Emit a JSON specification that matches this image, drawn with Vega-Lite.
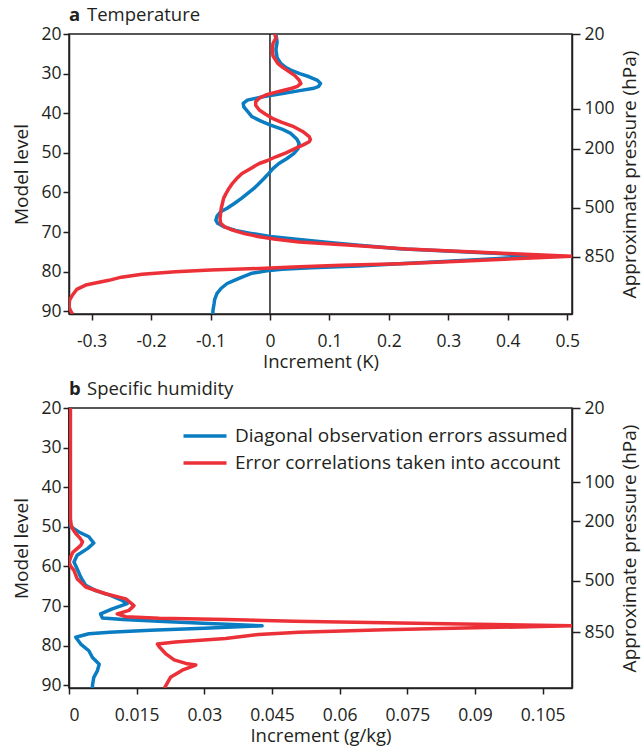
{
  "$schema": "https://vega.github.io/schema/vega-lite/v6.json",
  "background": "white",
  "padding": {"left": 12, "top": 5, "right": 1, "bottom": 2},
  "bounds": "flush",
  "spacing": 94,
  "resolve": {"legend": {"color": "independent"}},
  "config": {
    "font": "Open Sans",
    "view": {"stroke": "#231f20", "strokeWidth": 1.5},
    "axis": {"grid": false, "labelFont": "Open Sans", "titleFont": "Open Sans", "labelFontSize": 17.5, "titleFontSize": 19, "titleFontWeight": "normal", "labelColor": "#231f20", "titleColor": "#231f20", "domainColor": "#231f20", "tickColor": "#231f20", "domainWidth": 1.5, "tickWidth": 1.5, "tickSize": 6, "labelPadding": 2},
    "axisX": {"labelPadding": 12.5, "titlePadding": 2.5, "titleFontSize": 18.5},
    "title": {"anchor": "start", "frame": "group", "font": "Open Sans", "fontSize": 18.5, "color": "#231f20", "subtitleFont": "Open Sans", "subtitleFontSize": 18.5, "subtitleColor": "#231f20", "subtitlePadding": -18.5, "offset": 0.01},
    "style": {"group-subtitle": {"dx": 18}},
    "legend": {"labelFont": "Open Sans", "labelFontSize": 19, "labelColor": "#231f20", "labelLimit": 0}
  },
  "datasets": {
    "temp": [
      {"s": "Diagonal observation errors assumed", "level": 20, "inc": 0.010},
      {"s": "Diagonal observation errors assumed", "level": 22, "inc": 0.012},
      {"s": "Diagonal observation errors assumed", "level": 24, "inc": 0.010},
      {"s": "Diagonal observation errors assumed", "level": 26, "inc": 0.012},
      {"s": "Diagonal observation errors assumed", "level": 27.4, "inc": 0.018},
      {"s": "Diagonal observation errors assumed", "level": 28.5, "inc": 0.027},
      {"s": "Diagonal observation errors assumed", "level": 29.1, "inc": 0.035},
      {"s": "Diagonal observation errors assumed", "level": 30, "inc": 0.050},
      {"s": "Diagonal observation errors assumed", "level": 30.8, "inc": 0.066},
      {"s": "Diagonal observation errors assumed", "level": 31.7, "inc": 0.080},
      {"s": "Diagonal observation errors assumed", "level": 32.5, "inc": 0.085},
      {"s": "Diagonal observation errors assumed", "level": 33.2, "inc": 0.082},
      {"s": "Diagonal observation errors assumed", "level": 33.7, "inc": 0.074},
      {"s": "Diagonal observation errors assumed", "level": 34.3, "inc": 0.050},
      {"s": "Diagonal observation errors assumed", "level": 35, "inc": 0.021},
      {"s": "Diagonal observation errors assumed", "level": 35.8, "inc": -0.010},
      {"s": "Diagonal observation errors assumed", "level": 36.7, "inc": -0.038},
      {"s": "Diagonal observation errors assumed", "level": 37.5, "inc": -0.045},
      {"s": "Diagonal observation errors assumed", "level": 38.4, "inc": -0.044},
      {"s": "Diagonal observation errors assumed", "level": 39.5, "inc": -0.038},
      {"s": "Diagonal observation errors assumed", "level": 40.9, "inc": -0.030},
      {"s": "Diagonal observation errors assumed", "level": 42, "inc": -0.015},
      {"s": "Diagonal observation errors assumed", "level": 43, "inc": 0.001},
      {"s": "Diagonal observation errors assumed", "level": 44, "inc": 0.020},
      {"s": "Diagonal observation errors assumed", "level": 45.1, "inc": 0.035},
      {"s": "Diagonal observation errors assumed", "level": 46.5, "inc": 0.045},
      {"s": "Diagonal observation errors assumed", "level": 47.6, "inc": 0.049},
      {"s": "Diagonal observation errors assumed", "level": 49, "inc": 0.047},
      {"s": "Diagonal observation errors assumed", "level": 50.2, "inc": 0.040},
      {"s": "Diagonal observation errors assumed", "level": 51.5, "inc": 0.028},
      {"s": "Diagonal observation errors assumed", "level": 52.7, "inc": 0.015},
      {"s": "Diagonal observation errors assumed", "level": 54, "inc": 0.005},
      {"s": "Diagonal observation errors assumed", "level": 55.2, "inc": -0.002},
      {"s": "Diagonal observation errors assumed", "level": 56.5, "inc": -0.010},
      {"s": "Diagonal observation errors assumed", "level": 57.7, "inc": -0.018},
      {"s": "Diagonal observation errors assumed", "level": 59, "inc": -0.027},
      {"s": "Diagonal observation errors assumed", "level": 60.3, "inc": -0.038},
      {"s": "Diagonal observation errors assumed", "level": 61.5, "inc": -0.048},
      {"s": "Diagonal observation errors assumed", "level": 62.8, "inc": -0.060},
      {"s": "Diagonal observation errors assumed", "level": 64, "inc": -0.072},
      {"s": "Diagonal observation errors assumed", "level": 64.9, "inc": -0.083},
      {"s": "Diagonal observation errors assumed", "level": 66, "inc": -0.089},
      {"s": "Diagonal observation errors assumed", "level": 67, "inc": -0.091},
      {"s": "Diagonal observation errors assumed", "level": 67.8, "inc": -0.088},
      {"s": "Diagonal observation errors assumed", "level": 68.7, "inc": -0.077},
      {"s": "Diagonal observation errors assumed", "level": 69.6, "inc": -0.058},
      {"s": "Diagonal observation errors assumed", "level": 70.4, "inc": -0.030},
      {"s": "Diagonal observation errors assumed", "level": 71.1, "inc": 0.000},
      {"s": "Diagonal observation errors assumed", "level": 71.9, "inc": 0.049},
      {"s": "Diagonal observation errors assumed", "level": 72.6, "inc": 0.095},
      {"s": "Diagonal observation errors assumed", "level": 73.3, "inc": 0.145},
      {"s": "Diagonal observation errors assumed", "level": 74.2, "inc": 0.217},
      {"s": "Diagonal observation errors assumed", "level": 75.4, "inc": 0.385},
      {"s": "Diagonal observation errors assumed", "level": 76.1, "inc": 0.440},
      {"s": "Diagonal observation errors assumed", "level": 76.7, "inc": 0.385},
      {"s": "Diagonal observation errors assumed", "level": 77.4, "inc": 0.300},
      {"s": "Diagonal observation errors assumed", "level": 78, "inc": 0.217},
      {"s": "Diagonal observation errors assumed", "level": 78.6, "inc": 0.150},
      {"s": "Diagonal observation errors assumed", "level": 79.0, "inc": 0.070},
      {"s": "Diagonal observation errors assumed", "level": 79.4, "inc": 0.020},
      {"s": "Diagonal observation errors assumed", "level": 79.8, "inc": -0.005},
      {"s": "Diagonal observation errors assumed", "level": 80.4, "inc": -0.030},
      {"s": "Diagonal observation errors assumed", "level": 81.3, "inc": -0.046},
      {"s": "Diagonal observation errors assumed", "level": 82.2, "inc": -0.060},
      {"s": "Diagonal observation errors assumed", "level": 83, "inc": -0.072},
      {"s": "Diagonal observation errors assumed", "level": 84.2, "inc": -0.082},
      {"s": "Diagonal observation errors assumed", "level": 85.5, "inc": -0.089},
      {"s": "Diagonal observation errors assumed", "level": 87, "inc": -0.093},
      {"s": "Diagonal observation errors assumed", "level": 88.1, "inc": -0.094},
      {"s": "Diagonal observation errors assumed", "level": 89, "inc": -0.095},
      {"s": "Diagonal observation errors assumed", "level": 90, "inc": -0.096},
      {"s": "Diagonal observation errors assumed", "level": 90.7, "inc": -0.096},
      {"s": "Error correlations taken into account", "level": 20, "inc": 0.008},
      {"s": "Error correlations taken into account", "level": 21, "inc": 0.010},
      {"s": "Error correlations taken into account", "level": 22.4, "inc": 0.005},
      {"s": "Error correlations taken into account", "level": 24, "inc": 0.004},
      {"s": "Error correlations taken into account", "level": 25.5, "inc": 0.005},
      {"s": "Error correlations taken into account", "level": 27.4, "inc": 0.013},
      {"s": "Error correlations taken into account", "level": 28.5, "inc": 0.022},
      {"s": "Error correlations taken into account", "level": 29.5, "inc": 0.032},
      {"s": "Error correlations taken into account", "level": 30.5, "inc": 0.042},
      {"s": "Error correlations taken into account", "level": 31.6, "inc": 0.049},
      {"s": "Error correlations taken into account", "level": 32.5, "inc": 0.052},
      {"s": "Error correlations taken into account", "level": 33.2, "inc": 0.046},
      {"s": "Error correlations taken into account", "level": 33.7, "inc": 0.037},
      {"s": "Error correlations taken into account", "level": 34.5, "inc": 0.015},
      {"s": "Error correlations taken into account", "level": 35.4, "inc": -0.007},
      {"s": "Error correlations taken into account", "level": 36.2, "inc": -0.018},
      {"s": "Error correlations taken into account", "level": 37.1, "inc": -0.024},
      {"s": "Error correlations taken into account", "level": 38, "inc": -0.024},
      {"s": "Error correlations taken into account", "level": 39.2, "inc": -0.018},
      {"s": "Error correlations taken into account", "level": 40.2, "inc": -0.008},
      {"s": "Error correlations taken into account", "level": 41.3, "inc": 0.004},
      {"s": "Error correlations taken into account", "level": 42.3, "inc": 0.020},
      {"s": "Error correlations taken into account", "level": 43.4, "inc": 0.040},
      {"s": "Error correlations taken into account", "level": 44.6, "inc": 0.055},
      {"s": "Error correlations taken into account", "level": 45.9, "inc": 0.066},
      {"s": "Error correlations taken into account", "level": 46.6, "inc": 0.068},
      {"s": "Error correlations taken into account", "level": 47.2, "inc": 0.066},
      {"s": "Error correlations taken into account", "level": 48, "inc": 0.056},
      {"s": "Error correlations taken into account", "level": 48.9, "inc": 0.043},
      {"s": "Error correlations taken into account", "level": 50, "inc": 0.027},
      {"s": "Error correlations taken into account", "level": 51, "inc": 0.010},
      {"s": "Error correlations taken into account", "level": 52, "inc": -0.005},
      {"s": "Error correlations taken into account", "level": 52.7, "inc": -0.018},
      {"s": "Error correlations taken into account", "level": 54, "inc": -0.033},
      {"s": "Error correlations taken into account", "level": 55.2, "inc": -0.047},
      {"s": "Error correlations taken into account", "level": 56.5, "inc": -0.056},
      {"s": "Error correlations taken into account", "level": 57.7, "inc": -0.063},
      {"s": "Error correlations taken into account", "level": 59, "inc": -0.069},
      {"s": "Error correlations taken into account", "level": 60.3, "inc": -0.074},
      {"s": "Error correlations taken into account", "level": 61.5, "inc": -0.078},
      {"s": "Error correlations taken into account", "level": 62.8, "inc": -0.080},
      {"s": "Error correlations taken into account", "level": 64, "inc": -0.082},
      {"s": "Error correlations taken into account", "level": 65.3, "inc": -0.083},
      {"s": "Error correlations taken into account", "level": 66.5, "inc": -0.084},
      {"s": "Error correlations taken into account", "level": 67.8, "inc": -0.083},
      {"s": "Error correlations taken into account", "level": 68.7, "inc": -0.076},
      {"s": "Error correlations taken into account", "level": 69.5, "inc": -0.063},
      {"s": "Error correlations taken into account", "level": 70.4, "inc": -0.043},
      {"s": "Error correlations taken into account", "level": 71.2, "inc": -0.018},
      {"s": "Error correlations taken into account", "level": 71.8, "inc": 0.010},
      {"s": "Error correlations taken into account", "level": 72.5, "inc": 0.049},
      {"s": "Error correlations taken into account", "level": 73.3, "inc": 0.130},
      {"s": "Error correlations taken into account", "level": 74.3, "inc": 0.230},
      {"s": "Error correlations taken into account", "level": 75.4, "inc": 0.400},
      {"s": "Error correlations taken into account", "level": 76.1, "inc": 0.508},
      {"s": "Error correlations taken into account", "level": 76.7, "inc": 0.420},
      {"s": "Error correlations taken into account", "level": 77.4, "inc": 0.320},
      {"s": "Error correlations taken into account", "level": 78, "inc": 0.220},
      {"s": "Error correlations taken into account", "level": 78.4, "inc": 0.120},
      {"s": "Error correlations taken into account", "level": 78.8, "inc": 0.050},
      {"s": "Error correlations taken into account", "level": 79.2, "inc": -0.018},
      {"s": "Error correlations taken into account", "level": 79.6, "inc": -0.100},
      {"s": "Error correlations taken into account", "level": 80.05, "inc": -0.159},
      {"s": "Error correlations taken into account", "level": 80.65, "inc": -0.215},
      {"s": "Error correlations taken into account", "level": 81.4, "inc": -0.250},
      {"s": "Error correlations taken into account", "level": 82.2, "inc": -0.271},
      {"s": "Error correlations taken into account", "level": 83.4, "inc": -0.310},
      {"s": "Error correlations taken into account", "level": 84.5, "inc": -0.325},
      {"s": "Error correlations taken into account", "level": 85.9, "inc": -0.332},
      {"s": "Error correlations taken into account", "level": 87.2, "inc": -0.337},
      {"s": "Error correlations taken into account", "level": 88.9, "inc": -0.338},
      {"s": "Error correlations taken into account", "level": 90, "inc": -0.335},
      {"s": "Error correlations taken into account", "level": 90.7, "inc": -0.332}
    ],
    "hum": [
      {"s": "Diagonal observation errors assumed", "level": 20, "inc": 0.0003},
      {"s": "Diagonal observation errors assumed", "level": 35, "inc": 0.0003},
      {"s": "Diagonal observation errors assumed", "level": 48, "inc": 0.0003},
      {"s": "Diagonal observation errors assumed", "level": 50, "inc": 0.0004},
      {"s": "Diagonal observation errors assumed", "level": 51.3, "inc": 0.0022},
      {"s": "Diagonal observation errors assumed", "level": 52.5, "inc": 0.0044},
      {"s": "Diagonal observation errors assumed", "level": 54.1, "inc": 0.0055},
      {"s": "Diagonal observation errors assumed", "level": 55.5, "inc": 0.0041},
      {"s": "Diagonal observation errors assumed", "level": 57.2, "inc": 0.0018},
      {"s": "Diagonal observation errors assumed", "level": 58.9, "inc": 0.0011},
      {"s": "Diagonal observation errors assumed", "level": 60.6, "inc": 0.0018},
      {"s": "Diagonal observation errors assumed", "level": 62.7, "inc": 0.0026},
      {"s": "Diagonal observation errors assumed", "level": 64.8, "inc": 0.0037},
      {"s": "Diagonal observation errors assumed", "level": 66.1, "inc": 0.0059},
      {"s": "Diagonal observation errors assumed", "level": 67.3, "inc": 0.0092},
      {"s": "Diagonal observation errors assumed", "level": 68.6, "inc": 0.0118},
      {"s": "Diagonal observation errors assumed", "level": 69.4, "inc": 0.0129},
      {"s": "Diagonal observation errors assumed", "level": 70.7, "inc": 0.0096},
      {"s": "Diagonal observation errors assumed", "level": 72, "inc": 0.0070},
      {"s": "Diagonal observation errors assumed", "level": 73.0, "inc": 0.0074},
      {"s": "Diagonal observation errors assumed", "level": 73.4, "inc": 0.0120},
      {"s": "Diagonal observation errors assumed", "level": 73.9, "inc": 0.0210},
      {"s": "Diagonal observation errors assumed", "level": 74.4, "inc": 0.0310},
      {"s": "Diagonal observation errors assumed", "level": 75.0, "inc": 0.0428},
      {"s": "Diagonal observation errors assumed", "level": 75.6, "inc": 0.0300},
      {"s": "Diagonal observation errors assumed", "level": 76.1, "inc": 0.0180},
      {"s": "Diagonal observation errors assumed", "level": 76.6, "inc": 0.0090},
      {"s": "Diagonal observation errors assumed", "level": 77.0, "inc": 0.0044},
      {"s": "Diagonal observation errors assumed", "level": 77.9, "inc": 0.0015},
      {"s": "Diagonal observation errors assumed", "level": 79.6, "inc": 0.0026},
      {"s": "Diagonal observation errors assumed", "level": 81.3, "inc": 0.0044},
      {"s": "Diagonal observation errors assumed", "level": 83, "inc": 0.0052},
      {"s": "Diagonal observation errors assumed", "level": 84.7, "inc": 0.0067},
      {"s": "Diagonal observation errors assumed", "level": 86.3, "inc": 0.0063},
      {"s": "Diagonal observation errors assumed", "level": 88, "inc": 0.0055},
      {"s": "Diagonal observation errors assumed", "level": 90, "inc": 0.0052},
      {"s": "Diagonal observation errors assumed", "level": 90.7, "inc": 0.0052},
      {"s": "Error correlations taken into account", "level": 20, "inc": 0.0003},
      {"s": "Error correlations taken into account", "level": 35, "inc": 0.0003},
      {"s": "Error correlations taken into account", "level": 48, "inc": 0.0003},
      {"s": "Error correlations taken into account", "level": 49.2, "inc": 0.0004},
      {"s": "Error correlations taken into account", "level": 50.5, "inc": 0.0008},
      {"s": "Error correlations taken into account", "level": 51.7, "inc": 0.0015},
      {"s": "Error correlations taken into account", "level": 52.8, "inc": 0.0024},
      {"s": "Error correlations taken into account", "level": 53.8, "inc": 0.0030},
      {"s": "Error correlations taken into account", "level": 54.7, "inc": 0.0026},
      {"s": "Error correlations taken into account", "level": 55.5, "inc": 0.0018},
      {"s": "Error correlations taken into account", "level": 56.5, "inc": 0.0008},
      {"s": "Error correlations taken into account", "level": 57.6, "inc": 0.0004},
      {"s": "Error correlations taken into account", "level": 58.9, "inc": 0.0000},
      {"s": "Error correlations taken into account", "level": 60, "inc": 0.0004},
      {"s": "Error correlations taken into account", "level": 61, "inc": 0.0011},
      {"s": "Error correlations taken into account", "level": 63.1, "inc": 0.0018},
      {"s": "Error correlations taken into account", "level": 65.2, "inc": 0.0037},
      {"s": "Error correlations taken into account", "level": 66.9, "inc": 0.0081},
      {"s": "Error correlations taken into account", "level": 68.2, "inc": 0.0126},
      {"s": "Error correlations taken into account", "level": 69.9, "inc": 0.0144},
      {"s": "Error correlations taken into account", "level": 71.1, "inc": 0.0133},
      {"s": "Error correlations taken into account", "level": 72, "inc": 0.0107},
      {"s": "Error correlations taken into account", "level": 72.7, "inc": 0.0126},
      {"s": "Error correlations taken into account", "level": 73.1, "inc": 0.0200},
      {"s": "Error correlations taken into account", "level": 73.4, "inc": 0.0350},
      {"s": "Error correlations taken into account", "level": 73.85, "inc": 0.0500},
      {"s": "Error correlations taken into account", "level": 74.4, "inc": 0.0800},
      {"s": "Error correlations taken into account", "level": 75.0, "inc": 0.1116},
      {"s": "Error correlations taken into account", "level": 75.5, "inc": 0.0900},
      {"s": "Error correlations taken into account", "level": 76.0, "inc": 0.0700},
      {"s": "Error correlations taken into account", "level": 76.6, "inc": 0.0510},
      {"s": "Error correlations taken into account", "level": 77.2, "inc": 0.0420},
      {"s": "Error correlations taken into account", "level": 78.2, "inc": 0.0347},
      {"s": "Error correlations taken into account", "level": 79.1, "inc": 0.0236},
      {"s": "Error correlations taken into account", "level": 79.6, "inc": 0.0196},
      {"s": "Error correlations taken into account", "level": 80.3, "inc": 0.0200},
      {"s": "Error correlations taken into account", "level": 82, "inc": 0.0214},
      {"s": "Error correlations taken into account", "level": 83.6, "inc": 0.0233},
      {"s": "Error correlations taken into account", "level": 84.5, "inc": 0.0259},
      {"s": "Error correlations taken into account", "level": 84.9, "inc": 0.0281},
      {"s": "Error correlations taken into account", "level": 86.2, "inc": 0.0251},
      {"s": "Error correlations taken into account", "level": 88, "inc": 0.0225},
      {"s": "Error correlations taken into account", "level": 90.2, "inc": 0.0214},
      {"s": "Error correlations taken into account", "level": 90.7, "inc": 0.0212}
    ]
  },
  "vconcat": [
    {
      "width": 503,
      "height": 280,
      "title": {"text": "a", "subtitle": "Temperature", "fontWeight": "bold"},
      "layer": [
        {
          "data": {"values": [{}]},
          "mark": {"type": "rule", "color": "#231f20", "strokeWidth": 1.5},
          "encoding": {
            "x": {"datum": 0, "type": "quantitative"},
            "y": {"datum": 20, "type": "quantitative", "scale": {"domain": [20, 90.7], "reverse": true, "nice": false, "zero": false},
                  "axis": {"orient": "right", "values": [20, 38.9, 49.0, 63.9, 76.2], "labelExpr": "datum.value < 30 ? '20' : datum.value < 45 ? '100' : datum.value < 55 ? '200' : datum.value < 70 ? '500' : '850'", "title": "Approximate pressure (hPa)", "titleAngle": -90, "titleBaseline": "top", "tickSize": 8, "labelPadding": 4, "titlePadding": 6}},
            "y2": {"datum": 90.7}
          }
        },
        {
          "data": {"name": "temp"},
          "mark": {"type": "line", "strokeWidth": 3.5, "strokeJoin": "round", "clip": true},
          "encoding": {
            "x": {"field": "inc", "type": "quantitative", "scale": {"domain": [-0.338, 0.508], "nice": false, "zero": false},
                  "axis": {"values": [-0.3, -0.2, -0.1, 0, 0.1, 0.2, 0.3, 0.4, 0.5], "format": ".3~g", "labelExpr": "replace(datum.label, '\u2212', '-')", "title": "Increment (K)"}},
            "y": {"field": "level", "type": "quantitative", "scale": {"domain": [20, 90.7], "reverse": true, "nice": false, "zero": false},
                  "axis": {"values": [20, 30, 40, 50, 60, 70, 80, 90], "format": "d", "title": "Model level", "titlePadding": 9}},
            "color": {"field": "s", "type": "nominal", "scale": {"domain": ["Diagonal observation errors assumed", "Error correlations taken into account"], "range": ["#0a7cc1", "#ec3038"]}, "legend": null},
            "order": {"field": "level", "type": "quantitative"}
          }
        }
      ],
      "resolve": {"scale": {"y": "independent"}}
    },
    {
      "width": 503,
      "height": 280,
      "title": {"text": "b", "subtitle": "Specific humidity", "fontWeight": "bold"},
      "layer": [
        {
          "data": {"values": [{}]},
          "mark": {"type": "rule", "color": "#231f20", "strokeWidth": 1.5},
          "encoding": {
            "x": {"datum": 0, "type": "quantitative"},
            "y": {"datum": 20, "type": "quantitative", "scale": {"domain": [20, 90.7], "reverse": true, "nice": false, "zero": false},
                  "axis": {"orient": "right", "values": [20, 38.7, 48.6, 63.6, 76.6], "labelExpr": "datum.value < 30 ? '20' : datum.value < 45 ? '100' : datum.value < 55 ? '200' : datum.value < 70 ? '500' : '850'", "title": "Approximate pressure (hPa)", "titleAngle": -90, "titleBaseline": "top", "tickSize": 8, "labelPadding": 4, "titlePadding": 6}},
            "y2": {"datum": 90.7}
          }
        },
        {
          "data": {"name": "hum"},
          "mark": {"type": "line", "strokeWidth": 3.5, "strokeJoin": "round", "clip": true},
          "encoding": {
            "x": {"field": "inc", "type": "quantitative", "scale": {"domain": [0, 0.1115], "nice": false, "zero": false},
                  "axis": {"values": [0, 0.015, 0.03, 0.045, 0.06, 0.075, 0.09, 0.105], "format": ".3~g", "title": "Increment (g/kg)"}},
            "y": {"field": "level", "type": "quantitative", "scale": {"domain": [20, 90.7], "reverse": true, "nice": false, "zero": false},
                  "axis": {"values": [20, 30, 40, 50, 60, 70, 80, 90], "format": "d", "title": "Model level", "titlePadding": 9}},
            "color": {"field": "s", "type": "nominal", "scale": {"domain": ["Diagonal observation errors assumed", "Error correlations taken into account"], "range": ["#0a7cc1", "#ec3038"]},
                      "legend": {"orient": "none", "legendX": 126.5, "legendY": 18.5, "title": null, "symbolType": "M-4.3,0H4.3", "symbolSize": 100, "symbolStrokeWidth": 3.5, "labelOffset": 20.5, "rowPadding": 7}},
            "order": {"field": "level", "type": "quantitative"}
          }
        }
      ],
      "resolve": {"scale": {"y": "independent"}}
    }
  ]
}
